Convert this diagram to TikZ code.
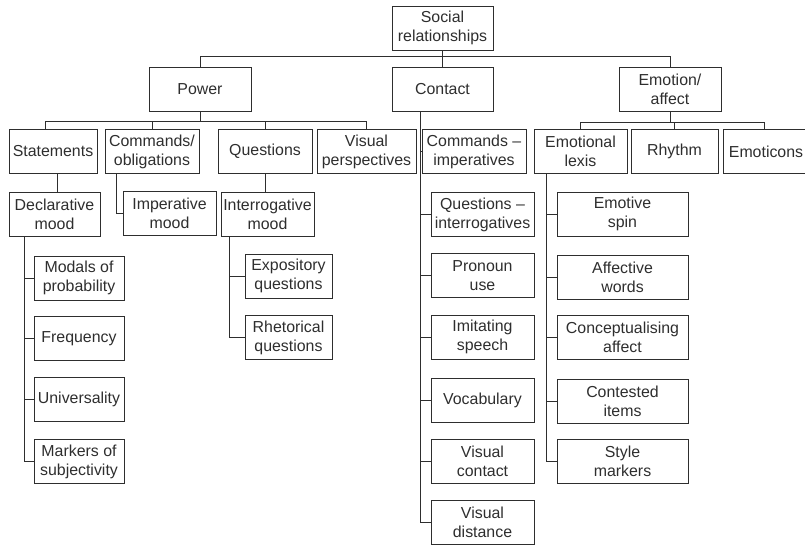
\documentclass[tikz,border=0pt]{standalone}
\usepackage{fontspec}
\setmainfont{Liberation Sans}
\usepackage{tikz}
\usetikzlibrary{positioning}
\definecolor{inkgray}{HTML}{2E2E2E}
\tikzset{
  cat/.style={rectangle, draw=inkgray, line width=0.9pt, text=inkgray,
              minimum width=#1, minimum height=44, inner sep=1pt,
              align=center, font=\fontsize{15.9}{19}\selectfont},
  cat/.default=100,
  link/.style={draw=inkgray, line width=0.9pt},
}

\begin{document}
\begin{tikzpicture}[x=1pt, y=-1pt]
  \useasboundingbox (0,0) rectangle (805,547);

  % --- Root and first level ---
  \node[cat=101] (soc) at (442.5, 28) {Social\\relationships};
  \node[cat=102] (pow) at (200, 89) {Power};
  \node[cat=101] (con) at (442.5, 89) {Contact};
  \node[cat=102] (emo) at (670, 89) {Emotion/\\affect};
  \draw[link] (soc.south) -- (con.north);
  \draw[link] (pow.north) -- ++(0,-10) -| (emo.north);

  % --- Power branch ---
  \node[cat=88] (stm) at (53, 151.5) {Statements};
  \node[cat=94] (cmd) at (152, 151.5) {Commands/\\obligations};
  \node[cat=94] (qst) at (265, 151.5) {Questions};
  \node[cat=99] (vis) at (366.5, 151.5) {Visual\\perspectives};
  \draw[link] (pow.south) -- ++(0,10);
  \draw[link] ([xshift=-8]stm.north) -- ++(0,-8) -| (vis.north);
  \draw[link] (cmd.north) -- ++(0,-8);
  \draw[link] (qst.north) -- ++(0,-8);

  % Statements -> declarative mood
  \node[cat=91] (dec) at (54.5, 214.5) {Declarative\\mood};
  \node[cat=90] (mod) at (79, 278) {Modals of\\probability};
  \node[cat=90] (frq) at (79, 338.5) {Frequency};
  \node[cat=90] (uni) at (79, 399.5) {Universality};
  \node[cat=90] (mrk) at (79, 461.5) {Markers of\\subjectivity};
  \draw[link] ([xshift=4]stm.south) -- ([xshift=4]stm.south |- dec.north);
  \draw[link] ([xshift=-30]dec.south) |- (mrk.west);
  \foreach \n in {mod, frq, uni}
    \draw[link] (\n.west) -- ++(-10,0);

  % Commands -> imperative mood
  \node[cat=93] (imp) at (169.5, 213.5) {Imperative\\mood};
  \draw[link] ([xshift=-36]cmd.south) |- (imp.west);

  % Questions -> interrogative mood
  \node[cat=93] (itg) at (267.5, 214) {Interrogative\\mood};
  \node[cat=87] (exq) at (288.5, 276) {Expository\\questions};
  \node[cat=87] (rhq) at (288.5, 337.5) {Rhetorical\\questions};
  \draw[link] (qst.south) -- (qst.south |- itg.north);
  \draw[link] ([xshift=-38.5]itg.south) |- (rhq.west);
  \draw[link] (exq.west) -- ++(-16,0);

  % --- Contact branch ---
  \node[cat=104] (cim) at (474, 151.5) {Commands --\\imperatives};
  \node[cat=103] (qin) at (482.5, 214.5) {Questions --\\interrogatives};
  \node[cat=103] (prn) at (482.5, 275.5) {Pronoun\\use};
  \node[cat=103] (ims) at (482.5, 337) {Imitating\\speech};
  \node[cat=103] (voc) at (482.5, 400.5) {Vocabulary};
  \node[cat=103] (vco) at (482.5, 461.5) {Visual\\contact};
  \node[cat=103] (vdi) at (482.5, 522.5) {Visual\\distance};
  \draw[link] ([xshift=-22.5]con.south) |- (vdi.west);
  \draw[link] (cim.west) -- ++(-2,0);
  \foreach \n in {qin, prn, ims, voc, vco}
    \draw[link] (\n.west) -- ++(-11,0);

  % --- Emotion/affect branch ---
  \node[cat=93] (lex) at (580.5, 151.5) {Emotional\\lexis};
  \node[cat=87] (rhy) at (674.5, 151.5) {Rhythm};
  \node[cat=86] (emt) at (766, 151.5) {Emoticons};
  \draw[link] (emo.south) -- ++(0,11);
  \draw[link] (lex.north) -- ++(0,-7) -| ([xshift=-2]emt.north);
  \draw[link] (rhy.north) -- ++(0,-7);

  % Emotional lexis -> sub-items
  \node[cat=131] (spn) at (622.5, 214) {Emotive\\spin};
  \node[cat=131] (afw) at (622.5, 277.5) {Affective\\words};
  \node[cat=131] (cpa) at (622.5, 337) {Conceptualising\\affect};
  \node[cat=131] (cst) at (622.5, 401) {Contested\\items};
  \node[cat=131] (sty) at (622.5, 461.5) {Style\\markers};
  \draw[link] ([xshift=-34.5]lex.south) |- (sty.west);
  \foreach \n in {spn, afw, cpa, cst}
    \draw[link] (\n.west) -- ++(-11,0);
\end{tikzpicture}
\end{document}
